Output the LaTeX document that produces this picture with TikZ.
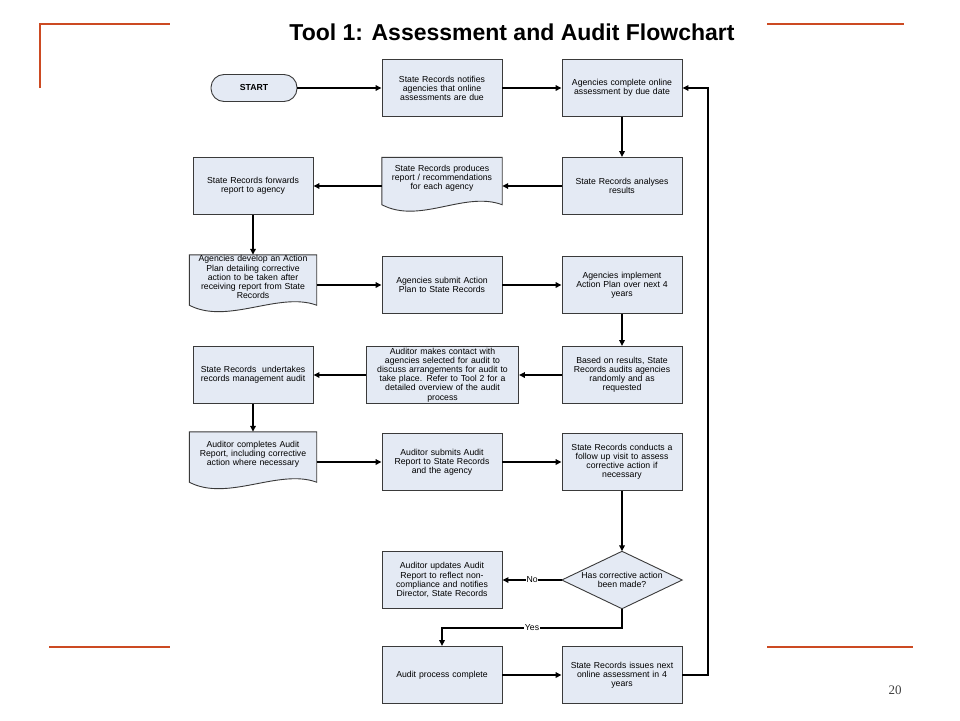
\documentclass[tikz,border=0pt]{standalone}
\usepackage{fontspec}
\setmainfont{Liberation Sans}
\newfontfamily\numfont{Liberation Serif}
\usetikzlibrary{arrows.meta,calc,positioning}
\pgfdeclarelayer{background}
\pgfsetlayers{background,main}
\definecolor{boxfill}{HTML}{E4EAF4}
\definecolor{boxline}{HTML}{3A3A3A}
\definecolor{deco}{HTML}{CC4A22}
\tikzset{
  base/.style={font=\fontsize{8.7}{9.1}\selectfont, align=center, inner sep=1pt},
  procbox/.style={base, draw=boxline, fill=boxfill, line width=0.9pt, minimum width=120pt, minimum height=57pt, text width=116pt},
  docbox/.style={minimum width=127pt, minimum height=60pt, inner sep=0pt},
  doctext/.style={base, text width=126pt},
  termbox/.style={base, font=\fontsize{8.7}{9.1}\selectfont\bfseries, draw=boxline, fill=boxfill, line width=0.9pt, rounded corners=13pt, minimum width=86pt, minimum height=27pt},
  conn/.style={line width=1.9pt, -{Triangle[length=6pt,width=5.5pt]}},
  decoline/.style={draw=deco, line width=2.2pt},
  edgelabel/.style={font=\fontsize{8.7}{9.1}\selectfont, fill=white, inner sep=0.8pt},
  shapeline/.style={draw=boxline, fill=boxfill, line width=0.9pt}
}
\newcommand{\docpath}[1]{%
  (#1.north west) -- (#1.north east) -- ($(#1.south east)+(0,-10)$)
  .. controls ($(#1.south east)+(-38,-24)$) and ($(#1.south west)+(38,10)$) ..
  ($(#1.south west)+(0,-10)$) -- cycle}
\begin{document}
\begin{tikzpicture}[x=1pt,y=-1pt]
\useasboundingbox (0,0) rectangle (960,720);

% decorative lines
\draw[decoline] (40,88) -- (40,24) -- (170,24);
\draw[decoline] (767,24) -- (904,24);
\draw[decoline] (49,647) -- (170,647);
\draw[decoline] (767,647) -- (913,647);
\node[font=\numfont\fontsize{13}{14}\selectfont, text=black!75] (pnum) at (895,690) {20};

% title
\node[font=\fontsize{23}{25}\selectfont\bfseries] (title) at (512,32) {Tool 1: Assessment and Audit Flowchart};

% row 1
\node[termbox] (start) at (254,88) {START};
\node[procbox] (n1) at (442,88) {State Records notifies\\agencies that online\\assessments are due};
\node[procbox] (n2) at (622,88) {Agencies complete online\\assessment by due date};

% row 2
\node[procbox] (n3) at (622,186) {State Records analyses\\results};
\node[docbox, minimum width=120pt, minimum height=57pt] (n4) at (442,186) {};
\node[doctext, text width=120pt] (n4t) at ($(n4.center)+(0,-7.5)$) {State Records produces\\report / recommendations\\for each agency};
\node[procbox] (n5) at (253,186) {State Records forwards\\report to agency};

% row 3
\node[docbox] (n6) at (253,285) {};
\node[doctext] (n6t) at ($(n6.center)+(0,-8)$) {Agencies develop an Action\\Plan detailing corrective\\action to be taken after\\receiving report from State\\Records};
\node[procbox] (n7) at (442,285) {Agencies submit Action\\Plan to State Records};
\node[procbox] (n8) at (622,285) {Agencies implement\\Action Plan over next 4\\years};

% row 4
\node[procbox] (n9) at (622,375) {Based on results, State\\Records audits agencies\\randomly and as\\requested};
\node[procbox, minimum width=151pt, text width=150pt] (n10) at (442.5,375) {Auditor makes contact with\\agencies selected for audit to\\discuss arrangements for audit to\\take place. Refer to Tool 2 for a\\detailed overview of the audit\\process};
\node[procbox] (n11) at (253,375) {State Records\ \ undertakes\\records management audit};

% row 5
\node[docbox] (n12) at (253,462) {};
\node[doctext] (n12t) at ($(n12.center)+(0,-8)$) {Auditor completes Audit\\Report, including corrective\\action where necessary};
\node[procbox] (n13) at (442,462) {Auditor submits Audit\\Report to State Records\\and the agency};
\node[procbox] (n14) at (622,462) {State Records conducts a\\follow up visit to assess\\corrective action if\\necessary};

% row 6
\node[base, minimum width=120pt, minimum height=57pt, inner sep=0pt] (d) at (622,580) {Has corrective action\\been made?};
\node[procbox] (n15) at (442,580) {Auditor updates Audit\\Report to reflect non-\\compliance and notifies\\Director, State Records};

% row 7
\node[procbox] (n16) at (442,675) {Audit process complete};
\node[procbox] (n17) at (622,675) {State Records issues next\\online assessment in 4\\years};

% shapes on background
\begin{pgfonlayer}{background}
\fill[white] (0,0) rectangle (960,720);
\path[shapeline] \docpath{n4};
\path[shapeline] \docpath{n6};
\path[shapeline] \docpath{n12};
\path[shapeline] (d.west) -- (d.north) -- (d.east) -- (d.south) -- cycle;
\end{pgfonlayer}

% connectors
\draw[conn] (start.east) -- (n1.west);
\draw[conn] (n1.east) -- (n2.west);
\draw[conn] (n2.south) -- (n3.north);
\draw[conn] (n3.west) -- (n4.east);
\draw[conn] (n4.west) -- (n5.east);
\draw[conn] (n5.south) -- (n6.north);
\draw[conn] (n6.east) -- (n7.west);
\draw[conn] (n7.east) -- (n8.west);
\draw[conn] (n8.south) -- (n9.north);
\draw[conn] (n9.west) -- (n10.east);
\draw[conn] (n10.west) -- (n11.east);
\draw[conn] (n11.south) -- (n12.north);
\draw[conn] (n12.east) -- (n13.west);
\draw[conn] (n13.east) -- (n14.west);
\draw[conn] (n14.south) -- (d.north);
\draw[conn] (d.west) -- node[edgelabel, pos=0.5] {No} (n15.east);
\coordinate (ybend) at (622,628);
\draw[conn] (d.south) -- (ybend) -| node[edgelabel, pos=0.25] {Yes} (n16.north);
\draw[conn] (n16.east) -- (n17.west);
\coordinate (loopr) at (708,675);
\draw[conn] (n17.east) -- (loopr) |- (n2.east);
\end{tikzpicture}
\end{document}
